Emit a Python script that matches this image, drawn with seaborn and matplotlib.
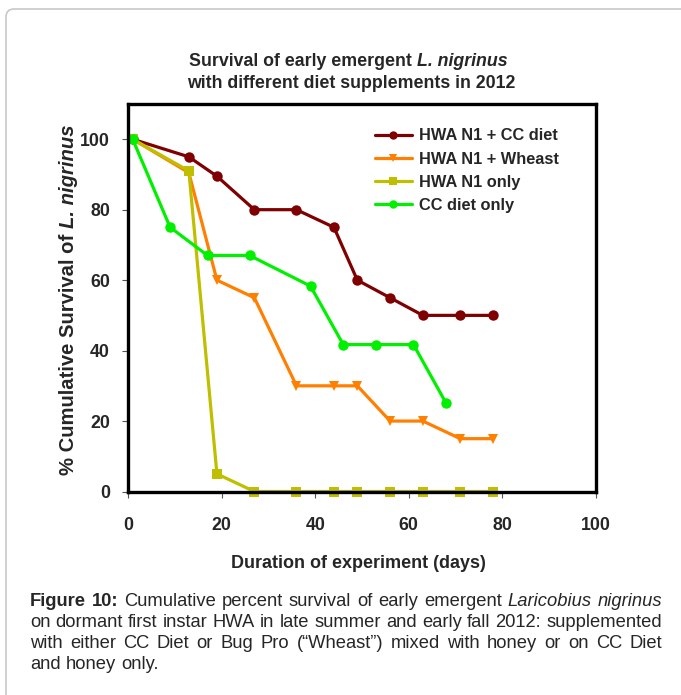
import matplotlib
matplotlib.use("Agg")
import matplotlib.pyplot as plt
from matplotlib.lines import Line2D
from matplotlib.patches import FancyBboxPatch
import pandas as pd
import seaborn as sns

# data
series_names = ["HWA N1 + CC diet", "HWA N1 + Wheast", "HWA N1 only", "CC diet only"]
days_cc_diet = [1, 13, 19, 27, 36, 44, 49, 56, 63, 71, 78]
surv_cc_diet = [100, 95, 89.5, 80, 80, 75, 60, 55, 50, 50, 50]
days_wheast = [1, 13, 19, 27, 36, 44, 49, 56, 63, 71, 78]
surv_wheast = [100, 90.5, 60, 55, 30, 30, 30, 20, 20, 15, 15]
days_hwa_only = [1, 13, 19, 27, 36, 44, 49, 56, 63, 71, 78]
surv_hwa_only = [100, 91, 5, 0, 0, 0, 0, 0, 0, 0, 0]
days_cc_only = [1, 9, 17, 26, 39, 46, 53, 61, 68]
surv_cc_only = [100, 75, 67, 67, 58.3, 41.7, 41.7, 41.7, 25]

x_ticks = [0, 20, 40, 60, 80, 100]
y_ticks = [0, 20, 40, 60, 80, 100]

colors = {"HWA N1 + CC diet": "#7f0000", "HWA N1 + Wheast": "#ff7f00",
          "HWA N1 only": "#bfbf00", "CC diet only": "#00f000"}
markers = {"HWA N1 + CC diet": "o", "HWA N1 + Wheast": "v",
           "HWA N1 only": "s", "CC diet only": "o"}

caption_lines = [
    "Figure 10: Cumulative percent survival of early emergent Laricobius nigrinus",
    "on dormant first instar HWA in late summer and early fall 2012: supplemented",
    "with either CC Diet or Bug Pro (\u201cWheast\u201d) mixed with honey or on CC Diet",
    "and honey only.",
]
bold_words = {(0, 0), (0, 1)}
italic_words = {(0, 8), (0, 9)}

frames = []
for name, d, s in [(series_names[0], days_cc_diet, surv_cc_diet),
                   (series_names[1], days_wheast, surv_wheast),
                   (series_names[2], days_hwa_only, surv_hwa_only),
                   (series_names[3], days_cc_only, surv_cc_only)]:
    frames.append(pd.DataFrame({"days": d, "survival": s, "series": name}))
df = pd.concat(frames, ignore_index=True)

sns.set_style("white")
plt.rcParams["font.family"] = ["Liberation Sans", "DejaVu Sans"]
plt.rcParams["font.weight"] = "bold"

W, H = 681, 695
fig = plt.figure(figsize=(W / 100, H / 100), dpi=100)
fig.patch.set_facecolor("white")
renderer = fig.canvas.get_renderer()

def fx(px):
    return px / W

def fy(py):
    return 1 - py / H

# grey frame around the figure
fig.patches.append(FancyBboxPatch((6, -30), 720, H - 9 + 30, boxstyle="round,pad=0,rounding_size=8",
                                  transform=None, facecolor="none", edgecolor="#c8c8c8", linewidth=1.2))

ax = fig.add_axes([fx(128), fy(491.5), fx(596) - fx(128), fy(104) - fy(491.5)])
sns.lineplot(data=df, x="days", y="survival", hue="series", style="series",
             hue_order=series_names, style_order=series_names,
             palette=colors, markers=markers, dashes=False, sort=False,
             linewidth=2.3, markersize=7.5, markeredgewidth=0, legend=False,
             ax=ax, clip_on=False)

ax.set_xlim(0, 100)
ax.set_ylim(0, 110)
ax.set_xticks(x_ticks)
ax.set_yticks(y_ticks)
ax.set_xlabel("")
ax.set_ylabel("")
for sp in ax.spines.values():
    sp.set_visible(True)
    sp.set_color("black")
    sp.set_linewidth(2.4)
ax.tick_params(axis="both", which="major", direction="out", length=4, width=0.8,
               color="#555555", labelsize=12.8, left=True, bottom=True)
ax.tick_params(axis="x", pad=14)
ax.tick_params(axis="y", pad=9)

handles = [Line2D([0], [0], color=colors[n], marker=markers[n], lw=2.3, markersize=6,
                  markeredgewidth=0) for n in series_names]
ax.legend(handles, series_names, loc="upper left", bbox_to_anchor=(fx(375), fy(128.5)),
          bbox_transform=fig.transFigure, frameon=False, fontsize=11.8,
          handlelength=2.25, handletextpad=0.45, labelspacing=0.5, borderpad=0, borderaxespad=0)

# title, first line has an italic species name
t1 = fig.text(0, fy(62), "Survival of early emergent ", ha="left", va="center", fontsize=12.8)
t2 = fig.text(0, fy(62), "L. nigrinus", ha="left", va="center", fontsize=12.8, fontstyle="italic")
w1 = t1.get_window_extent(renderer).width
w2 = t2.get_window_extent(renderer).width
x0 = 348 - (w1 + w2) / 2
t1.set_x(fx(x0))
t2.set_x(fx(x0 + w1))
fig.text(fx(351), fy(84), "with different diet supplements in 2012", ha="center", va="center",
         fontsize=12.8)

# rotated y label in two pieces
y1 = fig.text(fx(69), 0, "% Cumulative Survival of ", rotation=90, ha="center", va="bottom",
              fontsize=14.6)
y2 = fig.text(fx(69), 0, "L. nigrinus", rotation=90, ha="center", va="bottom",
              fontsize=14.6, fontstyle="italic")
h1 = y1.get_window_extent(renderer).height
h2 = y2.get_window_extent(renderer).height
yb = (H - 300) - (h1 + h2) / 2
y1.set_y(yb / H)
y2.set_y((yb + h1) / H)

fig.text(fx(358), fy(563), "Duration of experiment (days)", ha="center", va="center", fontsize=13)

# justified caption below the chart
cap_left, cap_right = 30, 662
baselines = [606, 627, 648, 669]
for i, line in enumerate(caption_lines):
    words = line.split(" ")
    texts = []
    for j, w in enumerate(words):
        t = fig.text(0, fy(baselines[i]), w, ha="left", va="baseline", fontsize=13.2,
                     fontweight="bold" if (i, j) in bold_words else "normal",
                     fontstyle="italic" if (i, j) in italic_words else "normal")
        texts.append(t)
    widths = [t.get_window_extent(renderer).width for t in texts]
    if i < len(caption_lines) - 1:
        gap = max((cap_right - cap_left - sum(widths)) / (len(words) - 1), 2.5)
    else:
        gap = 5.0
    x = cap_left
    for t, wd in zip(texts, widths):
        t.set_x(fx(x))
        x += wd + gap

fig.savefig("out.png", dpi=100)
